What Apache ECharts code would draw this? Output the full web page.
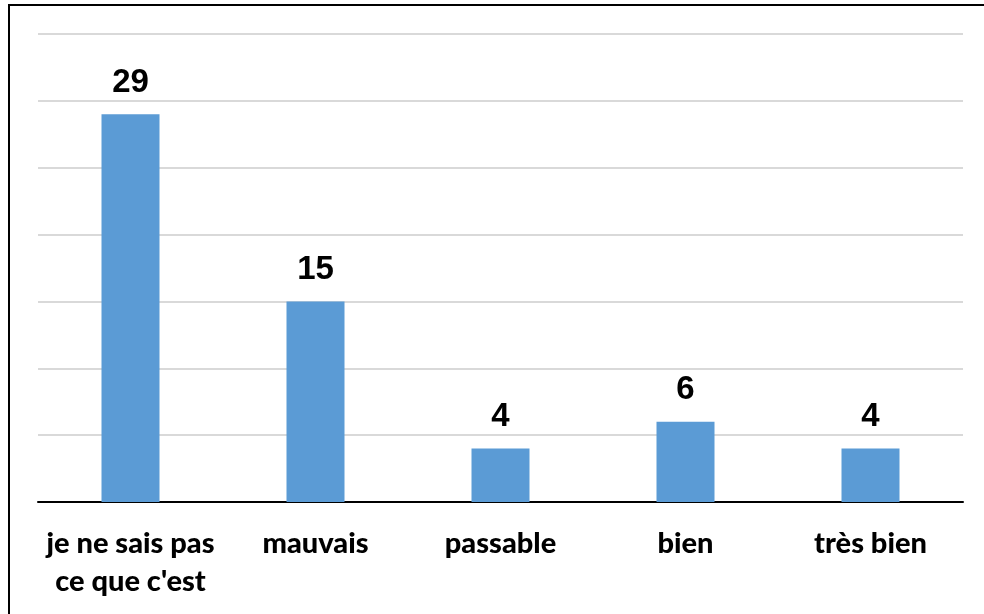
<!DOCTYPE html>
<html><head><meta charset="utf-8">
<script src="https://cdn.jsdelivr.net/npm/echarts@6/dist/echarts.min.js"></script>
<style>html,body{margin:0;padding:0;background:#fff}#c{width:984px;height:614px}</style>
</head><body><div id="c"></div>
<script>
const categories = ['je ne sais pas\nce que c\'est', 'mauvais', 'passable', 'bien', 'très bien'];
const values = [29, 15, 4, 6, 4];
const yMax = 35, yInterval = 5;

const chart = echarts.init(document.getElementById('c'), null, {renderer: 'canvas'});
chart.setOption({
  animation: false,
  graphic: [{type: 'rect', shape: {x: 9, y: 5, width: 1000, height: 700}, style: {fill: 'none', stroke: '#000', lineWidth: 2}, z: 100}],
  grid: {left: 38, right: 21, top: 34, bottom: 112},
  xAxis: {
    type: 'category', data: categories,
    axisLine: {lineStyle: {color: '#000', width: 2}},
    axisTick: {show: false},
    axisLabel: {fontFamily: 'Lato', fontWeight: 900, fontSize: 29, color: '#000', margin: 23, lineHeight: 38, interval: 0}
  },
  yAxis: {
    type: 'value', min: 0, max: yMax, interval: yInterval,
    axisLabel: {show: false}, axisLine: {show: false}, axisTick: {show: false},
    splitLine: {lineStyle: {color: '#d9d9d9', width: 2}}
  },
  series: [{
    type: 'bar', data: values, barWidth: 58,
    itemStyle: {color: '#5b9bd5'},
    label: {show: true, position: 'top', distance: 15, fontFamily: 'Liberation Sans', fontWeight: 'bold', fontSize: 33, color: '#000'}
  }]
});
</script></body></html>
